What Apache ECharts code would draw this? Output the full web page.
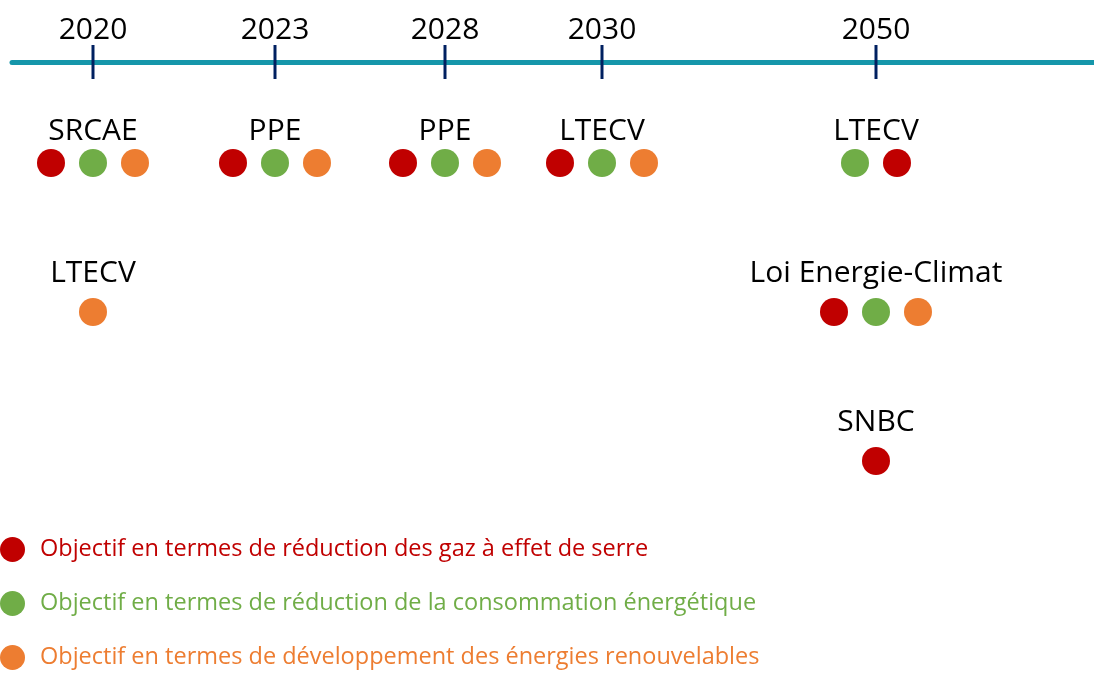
<!DOCTYPE html>
<html>
<head>
<meta charset="utf-8">
<title>Objectifs énergie-climat</title>
<script src="https://cdn.jsdelivr.net/npm/echarts@6/dist/echarts.min.js"></script>
<style>
    html, body { margin: 0; padding: 0; background: #fff; }
    #chart { width: 1094px; height: 673px; }
</style>
</head>
<body>
<div id="chart"></div>
<script>
    // jalons de la frise (position sur la frise, échelle 12-1094)
    var years = ['2020', '2023', '2028', '2030', '2050'];
    var yearSlots = [93, 275, 445, 602, 876];

    // types d'objectifs
    var goalNames = [
        'Objectif en termes de réduction des gaz à effet de serre',
        'Objectif en termes de réduction de la consommation énergétique',
        'Objectif en termes de développement des énergies renouvelables'
    ];
    var goalColors = ['#C00000', '#70AD47', '#ED7D31'];

    // textes et objectifs associés (0 = GES, 1 = conso, 2 = EnR)
    var plans = ['SRCAE', 'PPE', 'PPE', 'LTECV', 'LTECV', 'LTECV', 'Loi Energie-Climat', 'SNBC'];
    var planYears = ['2020', '2023', '2028', '2030', '2050', '2020', '2050', '2050'];
    var planRows = [0, 0, 0, 0, 0, 1, 1, 2];
    var planGoals = [[0, 1, 2], [0, 1, 2], [0, 1, 2], [0, 1, 2], [1, 0], [2], [0, 1, 2], [0]];

    var FONT = '"Open Sans", sans-serif';

    var tickData = years.map(function (y, i) { return [yearSlots[i], 0, y]; });
    var planData = plans.map(function (p, i) {
        return [yearSlots[years.indexOf(planYears[i])], planRows[i], i];
    });

    var series = [
        {
            name: 'jalons',
            type: 'scatter',
            xAxisIndex: 1, yAxisIndex: 1,
            symbol: 'rect',
            symbolSize: [3, 34],
            itemStyle: { color: '#002060', opacity: 1 },
            label: {
                show: true, position: 'top', distance: 0,
                formatter: function (p) { return p.value[2]; },
                fontFamily: FONT, fontSize: 30, color: '#000'
            },
            data: tickData,
            z: 5
        },
        {
            name: 'textes',
            type: 'custom',
            xAxisIndex: 0, yAxisIndex: 0,
            renderItem: function (params, api) {
                var i = api.value(2);
                var row = api.value(1);
                var c = api.coord([api.value(0), row]);
                var goals = planGoals[i];
                var children = [{
                    type: 'text',
                    style: {
                        text: plans[i], x: c[0], y: c[1] - (row === 0 ? 32 : 39),
                        align: 'center', verticalAlign: 'middle',
                        font: '30px ' + FONT, fill: '#000'
                    }
                }];
                goals.forEach(function (g, k) {
                    children.push({
                        type: 'circle',
                        shape: { cx: c[0] + (k - (goals.length - 1) / 2) * 42, cy: c[1], r: 14 },
                        style: { fill: goalColors[g] }
                    });
                });
                return { type: 'group', children: children };
            },
            data: planData
        }
    ];
    // séries vides pour la légende
    goalNames.forEach(function (n, i) {
        series.push({ name: n, type: 'scatter', data: [], itemStyle: { color: goalColors[i], opacity: 1 } });
    });

    var option = {
        backgroundColor: '#fff',
        animation: false,
        grid: [
            { left: 12, right: 0, top: 163, bottom: 212 },
            { left: 12, right: 0, top: 45, height: 34 }
        ],
        xAxis: [
            { gridIndex: 0, type: 'value', min: 12, max: 1094, show: false },
            {
                gridIndex: 1, type: 'value', min: 12, max: 1094,
                axisLine: { show: true, lineStyle: { color: '#1596AA', width: 5 } },
                axisTick: { show: false }, axisLabel: { show: false }, splitLine: { show: false }
            }
        ],
        yAxis: [
            { gridIndex: 0, type: 'value', min: 0, max: 2, inverse: true, show: false },
            { gridIndex: 1, type: 'value', min: -1, max: 1, show: false }
        ],
        legend: {
            orient: 'vertical',
            left: 0, top: 537,
            padding: 0,
            height: 136,
            icon: 'circle',
            itemWidth: 25, itemHeight: 25,
            itemGap: 29,
            selectedMode: false,
            textStyle: { fontFamily: FONT, fontSize: 23.5, lineHeight: 25, padding: [0, 0, 0, 10] },
            data: goalNames.map(function (n, i) {
                return { name: n, textStyle: { color: goalColors[i] } };
            })
        },
        series: series
    };

    var mychart = echarts.init(document.getElementById('chart'));
    mychart.setOption(option);
</script>
</body>
</html>
